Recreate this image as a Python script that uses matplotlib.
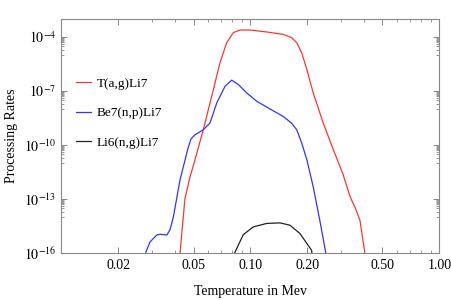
import matplotlib
matplotlib.use("Agg")
import matplotlib.pyplot as plt
from matplotlib.ticker import FixedLocator, FixedFormatter, NullFormatter

plt.rcParams['font.family'] = ['Liberation Serif', 'DejaVu Serif']
plt.rcParams['mathtext.fontset'] = 'stix'

# T(a,g)Li7
t_x = [0.0415, 0.0424, 0.0450, 0.0479, 0.0509, 0.0563, 0.0624, 0.0690, 0.0749, 0.0812,
       0.0881, 0.0995, 0.122, 0.149, 0.165, 0.176, 0.187, 0.199, 0.215, 0.243,
       0.275, 0.310, 0.337, 0.360, 0.380, 0.404, 0.41]
t_y = [1e-17, 9.3e-17, 1.0e-13, 1.7e-12, 1.5e-11, 7.0e-10, 5.1e-8, 3.7e-6, 4.8e-5, 1.75e-4,
       2.45e-4, 2.45e-4, 1.9e-4, 1.4e-4, 9.2e-5, 4.8e-5, 1.3e-5, 1.57e-6, 7.9e-8, 1.66e-9,
       5.4e-11, 2.2e-12, 1.35e-13, 3.0e-14, 6.6e-15, 9.3e-17, 1e-17]

# Be7(n,p)Li7
b_x = [0.0275, 0.0280, 0.0294, 0.0319, 0.0332, 0.0361, 0.0375, 0.0391, 0.0424, 0.0451,
       0.0468, 0.0485, 0.0509, 0.0563, 0.0611, 0.0664, 0.0734, 0.0796, 0.0863, 0.0955, 0.108,
       0.127, 0.149, 0.165, 0.176, 0.187, 0.199, 0.215, 0.233, 0.251, 0.256]
b_y = [1e-17, 1.15e-16, 4.1e-16, 9.8e-16, 1.1e-15, 1.0e-15, 1.9e-15, 1.0e-14, 1.15e-12, 1.5e-11,
       7.0e-11, 2.2e-10, 3.7e-10, 7.0e-10, 1.66e-9, 2.2e-8, 1.83e-7, 4.0e-7, 2.3e-7, 7.9e-8, 2.7e-8,
       1.0e-8, 3.9e-9, 1.66e-9, 7.0e-10, 1.27e-10, 1.5e-11, 4.8e-13, 6.6e-15, 9.3e-17, 1e-17]

# Li6(n,g)Li7
l_x = [0.0805, 0.0822, 0.0917, 0.1035, 0.122, 0.1435, 0.162, 0.183, 0.211, 0.216]
l_y = [1e-17, 9.3e-17, 1.05e-15, 2.8e-15, 4.4e-15, 4.7e-15, 3.5e-15, 1.2e-15, 1.4e-16, 1e-17]

x_major = [0.02, 0.05, 0.1, 0.2, 0.5, 1.0]
x_labels = ["0.02", "0.05", "0.10", "0.20", "0.50", "1.00"]
y_major = [1e-16, 1e-13, 1e-10, 1e-7, 1e-4]
y_labels = [r"$10^{-16}$", r"$10^{-13}$", r"$10^{-10}$", r"$10^{-7}$", r"$10^{-4}$"]

fig = plt.figure(figsize=(4.52, 3.0), dpi=100)
ax = fig.add_axes([61.5/452, 1-253/300, (439.3-61.5)/452, (253-19)/300])

ax.plot(t_x, t_y, color='#ff3333', lw=0.9, label='T(a,g)Li7')
ax.plot(b_x, b_y, color='#3333ff', lw=0.9, label='Be7(n,p)Li7')
ax.plot(l_x, l_y, color='#222222', lw=0.9, label='Li6(n,g)Li7')

ax.set_xscale('log')
ax.set_yscale('log')
ax.set_xlim(0.01, 1.0)
ax.set_ylim(1e-16, 1e-3)

ax.xaxis.set_major_locator(FixedLocator(x_major))
ax.xaxis.set_major_formatter(FixedFormatter(x_labels))
x_minor = [k * 0.01 for k in (3, 4, 6, 7, 8, 9)] + [k * 0.1 for k in (3, 4, 6, 7, 8, 9)]
ax.xaxis.set_minor_locator(FixedLocator(x_minor))
ax.xaxis.set_minor_formatter(NullFormatter())

ax.yaxis.set_major_locator(FixedLocator(y_major))
ax.yaxis.set_major_formatter(FixedFormatter(y_labels))
y_minor = []
for e in (-4, -7, -10, -13):
    for k in range(1, 10):
        y_minor.append(k * 10.0 ** (e - 1))
ax.yaxis.set_minor_locator(FixedLocator(y_minor))
ax.yaxis.set_minor_formatter(NullFormatter())

for s in ax.spines.values():
    s.set_color('#888888')
    s.set_linewidth(0.8)
ax.tick_params(which='both', direction='in', top=True, right=True, color='#888888',
               labelsize=10, pad=4)
ax.tick_params(which='major', length=4, width=0.7)
ax.tick_params(which='minor', length=2, width=0.6)

ax.set_xlabel('Temperature in Mev', fontsize=10, labelpad=10)
ax.set_ylabel('Processing Rates', fontsize=10, labelpad=4)

leg = ax.legend(loc='upper left', bbox_to_anchor=(0.006, 0.8), frameon=False, fontsize=9.5,
                handlelength=1.2, labelspacing=1.3, handletextpad=0.4)

fig.savefig('out.png', dpi=100)
